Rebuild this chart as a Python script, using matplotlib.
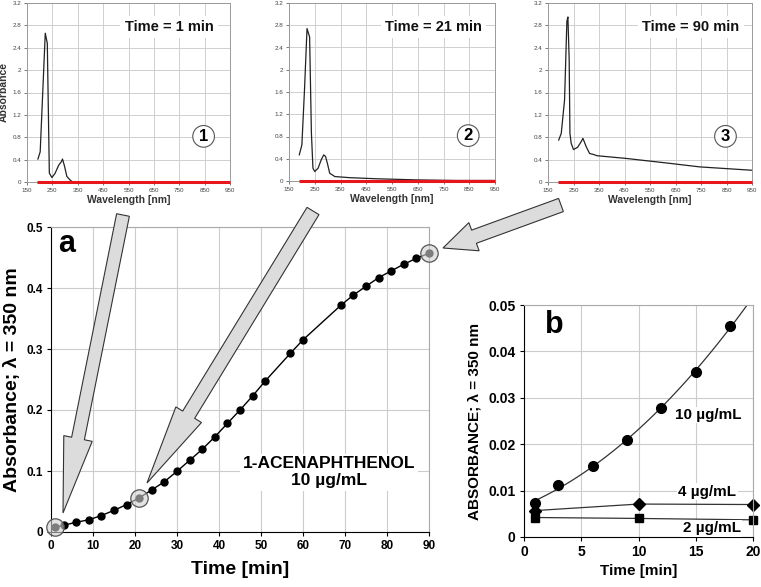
import numpy as np
import matplotlib
matplotlib.use('Agg')
import matplotlib.pyplot as plt
from matplotlib.patches import FancyArrow

plt.rcParams['font.family'] = ['Liberation Sans', 'DejaVu Sans']

# UV-Vis Spektren (Wellenlaenge in nm, Absorbanz)
wl_1 = [193, 202, 212, 222, 230, 238, 248, 260, 275, 285, 290, 298, 307, 320, 330]
ab_1 = [0.41, 0.54, 1.6, 2.66, 2.48, 0.16, 0.08, 0.15, 0.30, 0.36, 0.41, 0.28, 0.10, 0.035, 0.0]

wl_2 = [190, 200, 210, 220, 230, 237, 243, 250, 263, 275, 285, 292, 300, 308, 328, 386, 490, 645, 800, 950]
ab_2 = [0.47, 0.65, 1.62, 2.74, 2.59, 0.86, 0.23, 0.17, 0.23, 0.38, 0.47, 0.44, 0.30, 0.14, 0.08, 0.06, 0.04, 0.02, 0.01, 0.01]

wl_3 = [192, 202, 215, 224, 228, 233, 236, 241, 250, 266, 280, 287, 300, 313, 330, 342, 459, 615, 745, 950]
ab_3 = [0.75, 0.87, 1.47, 2.87, 2.95, 2.2, 0.87, 0.69, 0.58, 0.62, 0.72, 0.78, 0.63, 0.51, 0.49, 0.47, 0.42, 0.34, 0.27, 0.21]

wl_base = [190, 950]
ab_base = [0, 0]

spektren = [(wl_1, ab_1, 'Time = 1 min', '1'),
            (wl_2, ab_2, 'Time = 21 min', '2'),
            (wl_3, ab_3, 'Time = 90 min', '3')]

# Kinetik bei 350 nm, 10 ug/mL
t_a = [1, 3, 6, 9, 12, 15, 18, 21, 24, 27, 30, 33, 36, 39, 42, 45, 48, 51, 57, 60,
       69, 72, 75, 78, 81, 84, 87, 90]
a_a = [0.0077, 0.011, 0.016, 0.020, 0.027, 0.0355, 0.045, 0.056, 0.069, 0.0825,
       0.0995, 0.1175, 0.1355, 0.156, 0.178, 0.200, 0.223, 0.2475, 0.293, 0.315,
       0.3716, 0.3885, 0.4027, 0.417, 0.428, 0.439, 0.4486, 0.457]
t_markiert = [1, 21, 90]

# Anfangsbereich, drei Konzentrationen
t_10 = [1, 3, 6, 9, 12, 15, 18]
a_10 = [0.0073, 0.0111, 0.0154, 0.021, 0.0277, 0.0356, 0.0454]
t_4 = [1, 10, 20]
a_4 = [0.0057, 0.0071, 0.0070]
t_2 = [1, 10, 20]
a_2 = [0.0042, 0.0040, 0.0037]

W, H = 761, 587
fig = plt.figure(figsize=(W / 100, H / 100), dpi=100)

# kleine Spektren oben
boxes = [(27, 230, 3, 182), (289, 495, 3, 181), (548, 752, 3, 182)]
for i, ((wl, ab, titel, nr), (l, r, t, b)) in enumerate(zip(spektren, boxes)):
    ax = fig.add_axes([l / W, 1 - b / H, (r - l) / W, (b - t) / H])
    ax.plot(wl, ab, color='#222222', lw=0.9, zorder=3)
    ax.plot(wl_base, ab_base, color='#e8151b', lw=2.2, zorder=5, clip_on=False,
            solid_capstyle='butt')
    ax.set_xlim(150, 950)
    ax.set_ylim(0, 3.2)
    ax.set_xticks(np.arange(150, 951, 100))
    ax.set_yticks(np.arange(0, 3.21, 0.4))
    ax.set_yticklabels(['%g' % round(v, 1) for v in np.arange(0, 3.21, 0.4)])
    ax.tick_params(labelsize=4.5, length=2, width=0.5, pad=2, colors='#444444')
    ax.grid(True, color='#cfcfcf', lw=0.7)
    ax.set_axisbelow(True)
    for s in ax.spines.values():
        s.set_color('#9a9a9a')
        s.set_linewidth(0.7)
    ax.set_xlabel('Wavelength [nm]', fontsize=7.5, fontweight='bold', color='#333333', labelpad=2)
    if i == 0:
        ax.set_ylabel('Absorbance', fontsize=7.5, fontweight='bold', color='#333333', labelpad=3)
    ax.text(0.70, 0.865, titel, transform=ax.transAxes, ha='center', va='center',
            fontsize=10.5, fontweight='bold', color='#111111',
            bbox=dict(fc='white', ec='none', pad=3))
    ax.text(0.87, 0.255, nr, transform=ax.transAxes, ha='center', va='center',
            fontsize=12, fontweight='bold',
            bbox=dict(boxstyle='circle,pad=0.2', fc='white', ec='#555555', lw=0.8))

# Panel a
ax_a = fig.add_axes([51 / W, 1 - 532 / H, 378 / W, 305 / H])
ax_a.plot(t_a, a_a, color='black', lw=1, marker='o', ms=5, zorder=3, clip_on=False)
a_mark = [a_a[t_a.index(t)] for t in t_markiert]
ax_a.plot(t_markiert, a_mark, 'o', ms=12.5, mfc=(0.82, 0.82, 0.82, 0.6), mec='#555555',
          mew=0.9, zorder=4, clip_on=False)
ax_a.set_xlim(0, 90)
ax_a.set_ylim(0, 0.5)
ax_a.set_xticks(range(0, 91, 10))
ax_a.set_yticks([0, 0.1, 0.2, 0.3, 0.4, 0.5])
ax_a.set_yticklabels(['0', '0.1', '0.2', '0.3', '0.4', '0.5'])
ax_a.tick_params(labelsize=8.5, length=3, width=0.8, pad=3)
for lab in ax_a.get_xticklabels() + ax_a.get_yticklabels():
    lab.set_fontweight('bold')
ax_a.grid(True, color='#cccccc', lw=0.8)
ax_a.set_axisbelow(True)
ax_a.spines['top'].set_color('#aaaaaa')
ax_a.spines['right'].set_color('#aaaaaa')
ax_a.set_xlabel('Time [min]', fontsize=14, fontweight='bold', labelpad=6)
ax_a.set_ylabel('Absorbance; λ = 350 nm', fontsize=14, fontweight='bold', labelpad=4)
ax_a.text(0.02, 0.945, 'a', transform=ax_a.transAxes, fontsize=22, fontweight='bold',
          ha='left', va='center')
ax_a.text(66.2, 0.098, '1-ACENAPHTHENOL\n10 µg/mL', ha='center', va='center',
          fontsize=12.5, fontweight='bold', linespacing=1.15,
          bbox=dict(fc='white', ec='none', pad=2))

# Panel b
ax_b = fig.add_axes([524 / W, 1 - 537 / H, 229 / W, 232 / H])
t_fit = np.linspace(1, 20, 100)
ax_b.plot(t_fit, np.polyval(np.polyfit(t_10, a_10, 2), t_fit), color='#333333', lw=0.9)
ax_b.plot(t_10, a_10, 'o', color='black', ms=7)
ax_b.plot(t_4, a_4, color='#333333', lw=0.9, marker='D', ms=6, mfc='black', mec='black',
          clip_on=False)
ax_b.plot(t_2, a_2, color='#333333', lw=0.9, marker='s', ms=6, mfc='black', mec='black',
          clip_on=False)
ax_b.set_xlim(0, 20)
ax_b.set_ylim(0, 0.05)
ax_b.set_xticks([0, 5, 10, 15, 20])
ax_b.set_yticks([0, 0.01, 0.02, 0.03, 0.04, 0.05])
ax_b.set_yticklabels(['0', '0.01', '0.02', '0.03', '0.04', '0.05'])
ax_b.tick_params(labelsize=10, length=3, width=0.8, pad=3)
for lab in ax_b.get_xticklabels() + ax_b.get_yticklabels():
    lab.set_fontweight('bold')
ax_b.grid(True, color='#cccccc', lw=0.8)
ax_b.set_axisbelow(True)
ax_b.spines['top'].set_color('#aaaaaa')
ax_b.spines['right'].set_color('#aaaaaa')
ax_b.set_xlabel('Time [min]', fontsize=11, fontweight='bold', labelpad=3)
ax_b.set_ylabel('ABSORBANCE; λ = 350 nm', fontsize=11, fontweight='bold', labelpad=5)
ax_b.text(0.09, 0.915, 'b', transform=ax_b.transAxes, fontsize=22, fontweight='bold',
          ha='left', va='center')
for x, y, txt in [(16.1, 0.0263, '10 µg/mL'), (16.0, 0.0098, '4 µg/mL'), (16.4, 0.0019, '2 µg/mL')]:
    ax_b.text(x, y, txt, ha='center', va='center', fontsize=11, fontweight='bold',
              bbox=dict(fc='white', ec='none', pad=1))

# Pfeile von den Spektren zu den Messpunkten
ov = fig.add_axes([0, 0, 1, 1], zorder=10)
ov.set_xlim(0, W)
ov.set_ylim(H, 0)
ov.axis('off')
pfeile = [((123, 215), (63, 513), 13, 29, 76),
          ((313, 211), (147, 483), 14, 30, 80),
          ((561, 205), (443, 248), 14, 30, 33)]
for (x0, y0), (x1, y1), w, hw, hl in pfeile:
    ov.add_patch(FancyArrow(x0, y0, x1 - x0, y1 - y0, width=w, head_width=hw,
                            head_length=hl, length_includes_head=True,
                            fc='#dcdcdc', ec='#333333', lw=0.8))

plt.savefig('out.png', dpi=100)
